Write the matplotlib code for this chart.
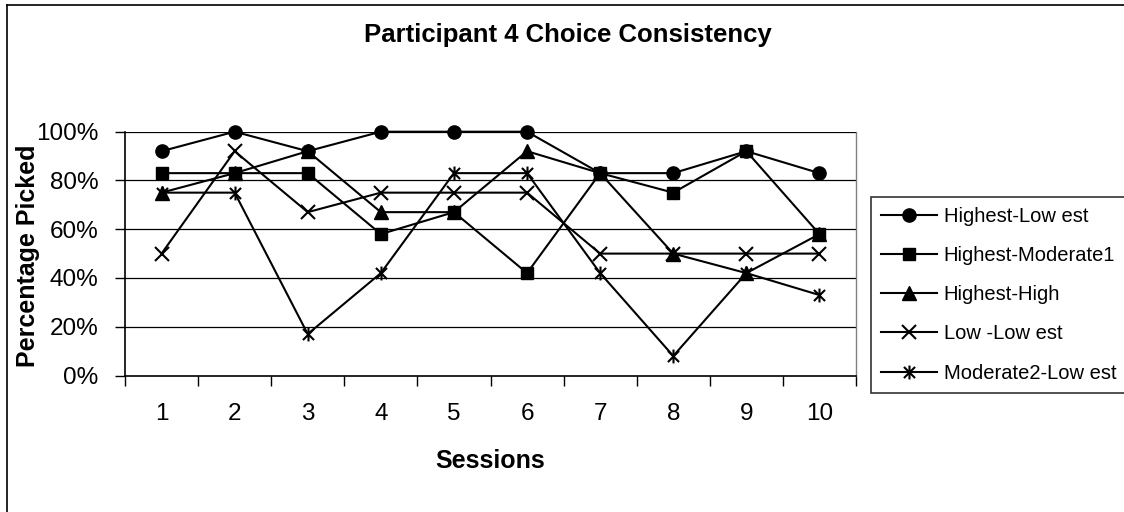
import matplotlib
matplotlib.use("Agg")
import matplotlib.pyplot as plt
from matplotlib.path import Path
from matplotlib.lines import Line2D
from matplotlib.ticker import FixedLocator, PercentFormatter

plt.rcParams['font.family'] = ['Liberation Sans', 'DejaVu Sans']

# Data: share of trials each option pair was picked, per session
sessions = [1, 2, 3, 4, 5, 6, 7, 8, 9, 10]
highest_lowest = [92, 100, 92, 100, 100, 100, 83, 83, 92, 83]
highest_moderate1 = [83, 83, 83, 58, 67, 42, 83, 75, 92, 58]
highest_high = [75, 83, 92, 67, 67, 92, 83, 50, 42, 58]
low_lowest = [50, 92, 67, 75, 75, 75, 50, 50, 50, 50]
moderate2_lowest = [75, 75, 17, 42, 83, 83, 42, 8, 42, 33]

series_labels = ["Highest-Low est", "Highest-Moderate1", "Highest-High",
                 "Low -Low est", "Moderate2-Low est"]
y_ticks = [0, 20, 40, 60, 80, 100]

W, H = 1124, 512
fig = plt.figure(figsize=(W / 100, H / 100), dpi=100)
fig.patch.set_facecolor("white")

# plot area in pixel terms
left, right, top, bottom = 125, 856, 131.7, 375.5
ax = fig.add_axes([left / W, 1 - bottom / H, (right - left) / W, (bottom - top) / H])

# asterisk-style marker: an x with a vertical bar through it
star = Path([(-1, -1), (1, 1), (-1, 1), (1, -1), (0, -1.25), (0, 1.25)],
            [Path.MOVETO, Path.LINETO, Path.MOVETO, Path.LINETO, Path.MOVETO, Path.LINETO])

xpos = [s - 0.5 for s in sessions]
styles = [
    dict(marker='o', markersize=9.5),
    dict(marker='s', markersize=9),
    dict(marker='^', markersize=9.5),
    dict(marker='x', markersize=10, markeredgewidth=1.5),
    dict(marker=star, markersize=10, markeredgewidth=1.5),
]
all_series = [highest_lowest, highest_moderate1, highest_high, low_lowest, moderate2_lowest]

for vals, lab, st in zip(all_series, series_labels, styles):
    ax.plot(xpos, vals, color='black', linewidth=1.5, label=lab,
            markerfacecolor='black', markeredgecolor='black', clip_on=False, zorder=3, **st)

# horizontal grid lines
for yv in y_ticks[1:]:
    ax.axhline(yv, color='black', linewidth=0.9, zorder=1)

ax.set_xlim(0, 10)
ax.set_ylim(0, 100)
ax.set_yticks(y_ticks)
ax.yaxis.set_major_formatter(PercentFormatter(decimals=0))
ax.tick_params(axis='y', direction='out', length=7, width=1, pad=12, labelsize=17.5)

# category labels centred between boundary tick marks
ax.set_xticks(xpos)
ax.set_xticklabels([str(s) for s in sessions])
ax.tick_params(axis='x', which='major', length=0, pad=20, labelsize=17.5)
ax.xaxis.set_minor_locator(FixedLocator(list(range(0, 11))))
ax.tick_params(axis='x', which='minor', direction='out', length=7, width=1)

for side in ('left', 'bottom'):
    ax.spines[side].set_color('black')
    ax.spines[side].set_linewidth(1.2)
ax.spines['top'].set_visible(False)
ax.spines['right'].set_color('#808080')
ax.spines['right'].set_linewidth(1)

# texts
fig.text(568 / W, 1 - 41.7 / H, "Participant 4 Choice Consistency",
         ha='center', va='baseline', fontsize=18.5, fontweight='bold')
fig.text(490.5 / W, 1 - 468 / H, "Sessions", ha='center', va='baseline',
         fontsize=18, fontweight='bold')
fig.text(28 / W, 1 - 256 / H, "Percentage Picked", ha='center', va='center',
         rotation=90, fontsize=18, fontweight='bold')

# legend
leg = ax.legend(loc='upper left', bbox_to_anchor=(871 / W, 1 - 197 / H),
                bbox_transform=fig.transFigure, frameon=True, fancybox=False,
                edgecolor='black', fontsize=14.5, handlelength=2.8,
                handletextpad=0.3, borderpad=0.5, labelspacing=1.0,
                borderaxespad=0)
leg.get_frame().set_linewidth(1.2)

# outer chart border
fig.add_artist(Line2D([7 / W, 7 / W], [0, 1 - 5 / H], color='black', linewidth=1.2,
                      transform=fig.transFigure))
fig.add_artist(Line2D([7 / W, 1], [1 - 5 / H, 1 - 5 / H], color='black', linewidth=1.2,
                      transform=fig.transFigure))

fig.savefig("out.png", dpi=100, facecolor='white')
